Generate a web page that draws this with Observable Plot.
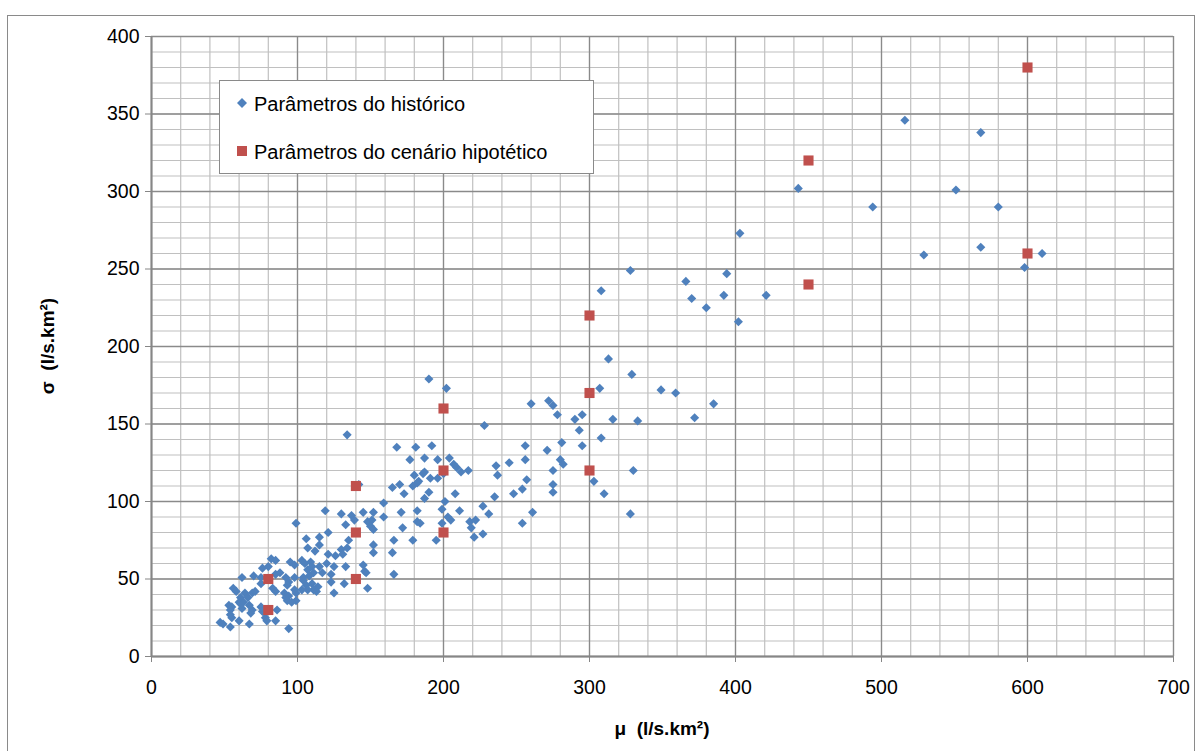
<!DOCTYPE html>
<html>
<head>
<meta charset="utf-8">
<script src="https://cdn.jsdelivr.net/npm/d3@7"></script>
<script src="https://cdn.jsdelivr.net/npm/@observablehq/plot@0.6"></script>
<style>
  body { margin: 0; background: #fff; }
  #chart { position: relative; width: 1199px; height: 751px; }
</style>
</head>
<body>
<div id="chart"></div>
<script>
// Parâmetros do histórico (μ, σ)
const histMu = [516,568,443,551,494,580,403,568,529,610,598,328,394,366,308,392,421,370,380,402,
313,329,190,202,307,349,359,385,260,272,275,278,290,295,316,333,372,228,293,134,
308,295,256,271,281,168,181,192,177,187,196,204,207,209,212,217,236,237,245,256,
280,282,275,330,303,257,275,310,254,248,275,328,261,254,180,186,187,191,196,200,
165,170,173,179,182,183,187,190,208,235,227,231,211,201,199,203,205,199,218,222,
219,227,221,171,182,159,159,182,184,172,195,179,166,142,119,130,137,139,145,152,
99,121,115,106,133,148,151,150,152,135,152,152,165,107,112,115,121,126,130,131,
134,120,125,133,145,146,147,166,123,123,132,125,148,95,103,109,82,85,76,80,
105,110,107,111,115,117,108,104,98,70,62,75,85,88,92,94,93,98,104,106,
110,114,111,113,107,103,75,83,85,56,58,64,61,60,66,69,71,91,92,94,
98,99,93,96,99,53,55,54,61,63,62,67,69,68,75,76,86,55,60,54,
67,78,79,78,85,47,54,94,49];
const histSigma = [346,338,302,301,290,290,273,264,259,260,251,249,247,242,236,233,233,231,225,216,
192,182,179,173,173,172,170,163,163,165,162,156,153,156,153,152,154,149,146,143,
141,136,136,133,138,135,135,136,127,128,127,128,124,122,119,120,123,117,125,127,
127,124,120,120,113,114,111,105,108,105,106,92,93,86,117,118,119,115,115,118,
109,111,105,110,112,113,102,106,105,103,97,92,94,100,95,90,88,86,87,88,
83,79,77,93,94,99,90,87,86,83,75,75,75,111,94,92,91,88,93,93,
86,80,77,76,85,87,88,84,82,75,72,67,67,70,68,72,66,65,69,66,
70,60,58,58,59,55,54,53,53,48,47,41,44,61,62,61,63,62,57,58,
60,58,56,54,58,54,52,51,59,52,51,51,53,54,51,48,46,51,49,46,
47,45,43,42,43,43,47,44,42,44,42,41,38,35,38,41,42,41,38,39,
43,36,36,35,41,33,32,30,34,35,31,33,30,28,32,29,30,25,23,27,
21,25,23,28,23,22,19,18,21];

// Parâmetros do cenário hipotético (μ, σ)
const hypMu    = [80, 80, 140, 140, 140, 200, 200, 200, 300, 300, 300, 450, 450, 600, 600];
const hypSigma = [30, 50, 50, 80, 110, 80, 120, 160, 120, 170, 220, 240, 320, 260, 380];

// Axis ticks and grid steps
const xTicks = [0, 100, 200, 300, 400, 500, 600, 700];
const yTicks = [0, 50, 100, 150, 200, 250, 300, 350, 400];
const xMinor = d3.range(0, 701, 20);
const yMinor = d3.range(0, 401, 10);

const legendLabels = ["Parâmetros do histórico", "Parâmetros do cenário hipotético"];
const xTitle = "μ  (l/s.km²)";
const yTitle = "σ  (l/s.km²)";

const hist = histMu.map((m, i) => ({mu: m, sigma: histSigma[i]}));
const hyp = hypMu.map((m, i) => ({mu: m, sigma: hypSigma[i]}));

const blue = "#4F81BD";
const red = "#C0504D";

const plot = Plot.plot({
  width: 1199,
  height: 751,
  marginLeft: 151,
  marginRight: 26,
  marginTop: 36,
  marginBottom: 95,
  x: {domain: [0, 700]},
  y: {domain: [0, 400]},
  style: {fontFamily: "'Liberation Sans', Arial, sans-serif", fontSize: "19.5px", color: "#000", background: "#fff", overflow: "visible"},
  marks: [
    Plot.ruleX(xMinor, {stroke: "#c0c0c0", strokeWidth: 1.2}),
    Plot.ruleY(yMinor, {stroke: "#c0c0c0", strokeWidth: 1.2}),
    Plot.ruleX(xTicks, {stroke: "#8a8a8a", strokeWidth: 1.3}),
    Plot.ruleY(yTicks, {stroke: "#8a8a8a", strokeWidth: 1.3}),
    Plot.axisX({ticks: xTicks, tickSize: 6, tickPadding: 18, stroke: "#868686", fill: "#000", tickFormat: d => String(d), label: null}),
    Plot.axisY({ticks: yTicks, tickSize: 6, tickPadding: 6, stroke: "#868686", fill: "#000", tickFormat: d => String(d), label: null}),
    Plot.ruleY([0], {stroke: "#868686", strokeWidth: 2}),
    Plot.ruleX([0], {stroke: "#868686", strokeWidth: 2}),
    Plot.dot(hist, {x: "mu", y: "sigma", symbol: "diamond2", r: 4.1, fill: blue, stroke: null}),
    Plot.dot(hyp, {x: "mu", y: "sigma", symbol: "square", r: 5.7, fill: red, stroke: null})
  ]
});

const svg = d3.select(plot);

// outer chart border
svg.insert("rect", ":first-child")
  .attr("x", 7.5).attr("y", 15.5).attr("width", 1187).attr("height", 745)
  .attr("fill", "#fff").attr("stroke", "#8a8a8a").attr("stroke-width", 1);

// axis titles
svg.append("text")
  .attr("x", 662).attr("y", 735)
  .attr("text-anchor", "middle")
  .attr("font-weight", "bold").attr("font-size", 19)
  .text(xTitle);
svg.append("text")
  .attr("transform", "translate(54,346) rotate(-90)")
  .attr("text-anchor", "middle")
  .attr("font-weight", "bold").attr("font-size", 19)
  .text(yTitle);

// legend
const lg = svg.append("g").attr("text-anchor", "start");
lg.append("rect")
  .attr("x", 219.5).attr("y", 80.5).attr("width", 374).attr("height", 93)
  .attr("fill", "#fff").attr("stroke", "#8a8a8a");
lg.append("path")
  .attr("d", "M242,98 L247,103 L242,108 L237,103 Z")
  .attr("fill", blue);
lg.append("rect")
  .attr("x", 237).attr("y", 146).attr("width", 10).attr("height", 10)
  .attr("fill", red);
lg.append("text").attr("x", 254).attr("y", 111).attr("font-size", 20).attr("text-anchor", "start").text(legendLabels[0]);
lg.append("text").attr("x", 254).attr("y", 159).attr("font-size", 20).attr("text-anchor", "start").text(legendLabels[1]);

document.getElementById("chart").appendChild(plot);
</script>
</body>
</html>
